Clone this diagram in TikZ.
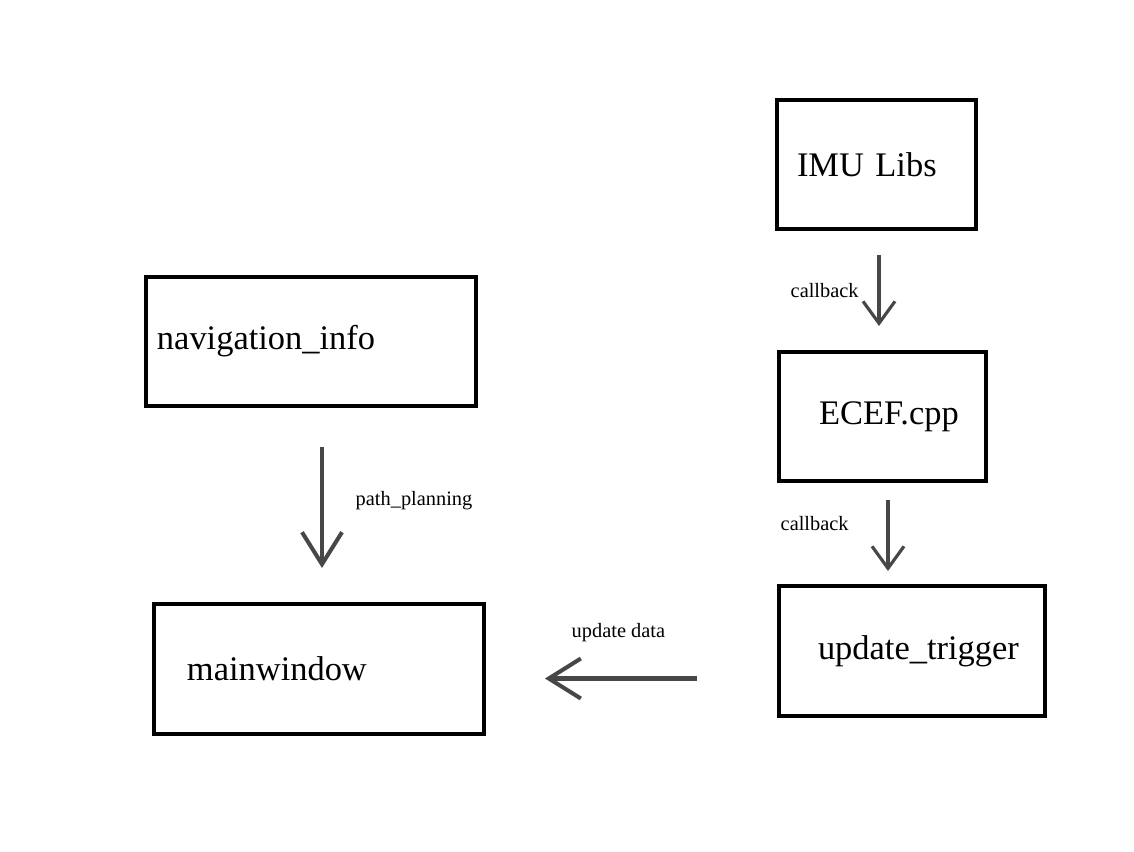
\documentclass[tikz,border=0pt]{standalone}
\usepackage{fontspec}
\setmainfont{Liberation Serif}
\usepackage{tikz}
\usetikzlibrary{calc,positioning}
\usetikzlibrary{arrows.meta}

\begin{document}
\begin{tikzpicture}
      \useasboundingbox (0,0) rectangle (11.34,-8.51);
      \tikzstyle{bnode} = [draw=black, line width=1.15pt, rectangle, inner xsep=0pt, minimum height=1.29cm, align=left, font=\fontsize{9.8}{12}\selectfont]
      \tikzstyle{lnode} = [anchor=base west, inner sep=0pt, font=\fontsize{5.8}{7}\selectfont]
      \tikzstyle{bigarr} = [draw=black!72, line width=1.15pt, -{Straight Barb[length=0.32cm,width=0.40cm]}]
      \tikzstyle{smallarr} = [draw=black!72, line width=0.9pt, -{Straight Barb[length=0.22cm,width=0.32cm]}]

      \node[bnode, text width=1.99cm] (imu) at (8.765,-1.645) {\hspace*{0.20cm}IMU Libs};
      \node[bnode, text width=2.07cm] (ecef) at (8.825,-4.165) {\hspace*{0.40cm}ECEF.cpp};
      \node[bnode, text width=2.66cm, minimum height=1.30cm] (trig) at (9.12,-6.51) {\hspace*{0.39cm}update\_trigger};
      \node[bnode, text width=3.30cm] (nav) at (3.11,-3.415) {\hspace*{0.11cm}navigation\_info};
      \node[bnode, text width=3.30cm, minimum height=1.30cm] (mw) at (3.19,-6.69) {\hspace*{0.33cm}mainwindow};

      % arrow ends
      \coordinate (cbA1) at (8.79,-2.55);
      \coordinate (cbA2) at (8.79,-3.26);
      \coordinate (cbB1) at (8.88,-5.00);
      \coordinate (cbB2) at (8.88,-5.71);
      \coordinate (pp1) at (3.22,-4.47);
      \coordinate (pp2) at (3.22,-5.68);
      \coordinate (ud1) at (6.97,-6.785);
      \coordinate (ud2) at (5.45,-6.785);

      % connections
      \draw[smallarr] (cbA1) to (cbA2);
      \draw[smallarr] (cbB1) to (cbB2);
      \draw[bigarr] (pp1) to (pp2);
      \draw[bigarr] (ud1) to (ud2);

      % labels
      \node[lnode] (cbAl) at (7.90,-2.97) {callback};
      \node[lnode] (cbBl) at (7.80,-5.30) {callback};
      \node[lnode] (ppl) at (3.55,-5.05) {path\_planning};
      \node[lnode] (udl) at (5.71,-6.37) {update data};
    \end{tikzpicture}
\end{document}
